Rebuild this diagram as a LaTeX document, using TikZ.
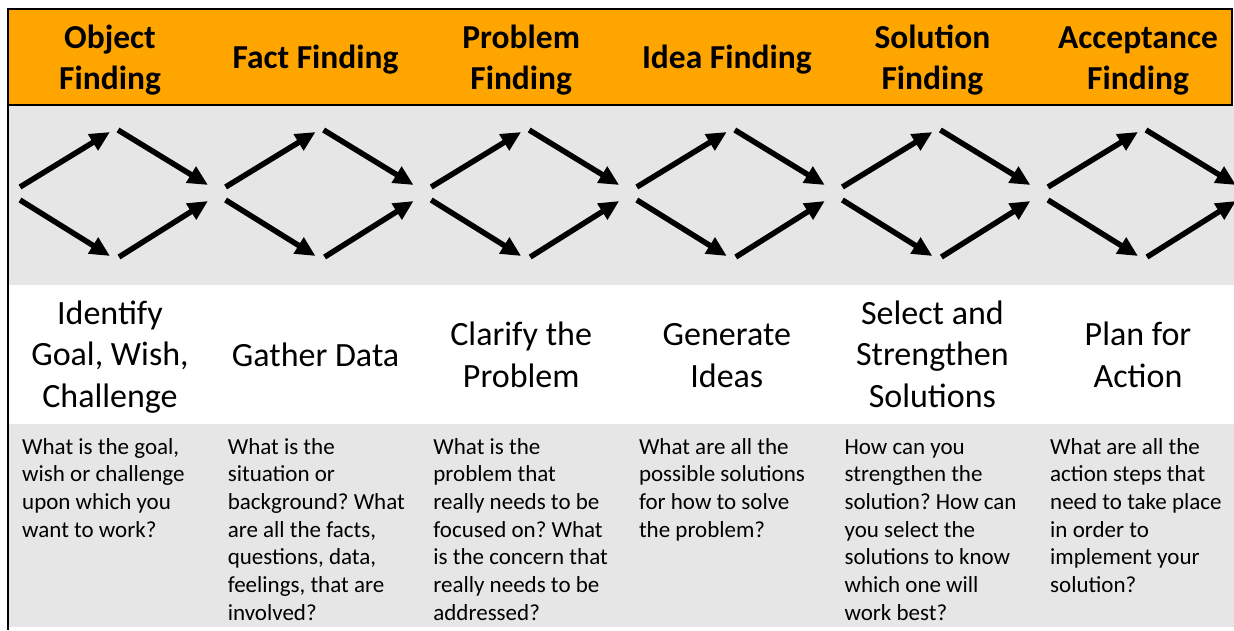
\documentclass[tikz,border=0pt]{standalone}
\usepackage{fontspec}
\setmainfont{Carlito}
\usetikzlibrary{arrows.meta}
\definecolor{hdr}{HTML}{FFA500}
\definecolor{band}{HTML}{E6E6E6}
\frenchspacing
\begin{document}
\begin{tikzpicture}[x=1pt,y=-1pt,
  flow/.style={line width=5.5pt,-{Triangle[length=20pt,width=18pt]}},
  % multi-line nodes: the base anchor sits on the baseline of the last line
  headtext/.style={font=\fontsize{33.5}{41}\selectfont\bfseries, align=center, anchor=base, inner sep=0pt},
  steptext/.style={font=\fontsize{34}{41.5}\selectfont, align=center, anchor=base, inner sep=0pt},
  asktext/.style={font=\fontsize{23}{27.7}\selectfont, align=left, anchor=base west, inner sep=0pt}]
\useasboundingbox (0,0) rectangle (1234,630);
\fill[white] (0,0) rectangle (1234,630);
% background bands
\fill[band] (9,106) rectangle (1234,285);
\fill[band] (9,424) rectangle (1234,627);
\draw[line width=2.5pt, fill=hdr] (8,9) rectangle (1232,105);
\draw[line width=2pt] (8,9) -- (8,630);

% diamond of four arrows in every column
\foreach \k in {0,...,5} {
  \begin{scope}[xshift=\k*205.6pt]
    \coordinate (l1\k) at (20,187);
    \coordinate (t1\k) at (110,132);
    \coordinate (t2\k) at (118,130);
    \coordinate (r1\k) at (208,185);
    \coordinate (l2\k) at (20,200);
    \coordinate (b1\k) at (110,256);
    \coordinate (b2\k) at (119,257);
    \coordinate (r2\k) at (208,201);
    \draw[flow] (l1\k) -- (t1\k);
    \draw[flow] (t2\k) -- (r1\k);
    \draw[flow] (l2\k) -- (b1\k);
    \draw[flow] (b2\k) -- (r2\k);
  \end{scope}
}

% headers
\node[headtext] (h1) at (110,89) {Object\\Finding};
\node[headtext] (h2) at (315.6,68) {Fact Finding};
\node[headtext] (h3) at (521.2,89) {Problem\\Finding};
\node[headtext] (h4) at (726.8,68) {Idea Finding};
\node[headtext] (h5) at (932.4,89) {Solution\\Finding};
\node[headtext] (h6) at (1138,89) {Acceptance\\Finding};

% step names
\node[steptext] (s1) at (110,407) {Identify\\Goal, Wish,\\Challenge};
\node[steptext] (s2) at (315.6,366) {Gather Data};
\node[steptext] (s3) at (521.2,387) {Clarify the\\Problem};
\node[steptext] (s4) at (726.8,387) {Generate\\Ideas};
\node[steptext] (s5) at (932.4,407) {Select and\\Strengthen\\Solutions};
\node[steptext] (s6) at (1138,387) {Plan for\\Action};

% guiding questions
\node[asktext] (q1) at (22,537.1) {What is the goal,\\wish or challenge\\upon which you\\want to work?};
\node[asktext] (q2) at (227.6,620.2) {What is the\\situation or\\background? What\\are all the facts,\\questions, data,\\feelings, that are\\involved?};
\node[asktext] (q3) at (433.2,620.2) {What is the\\problem that\\really needs to be\\focused on? What\\is the concern that\\really needs to be\\addressed?};
\node[asktext] (q4) at (638.8,537.1) {What are all the\\possible solutions\\for how to solve\\the problem?};
\node[asktext] (q5) at (844.4,620.2) {How can you\\strengthen the\\solution? How can\\you select the\\solutions to know\\which one will\\work best?};
\node[asktext] (q6) at (1050,592.5) {What are all the\\action steps that\\need to take place\\in order to\\implement your\\solution?};
\end{tikzpicture}
\end{document}
